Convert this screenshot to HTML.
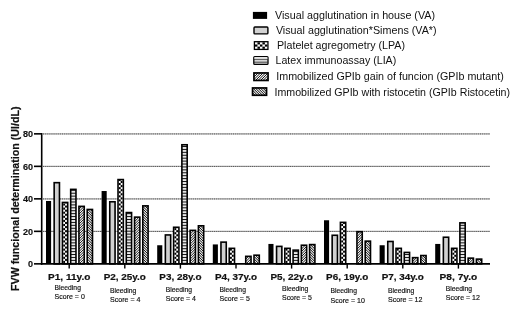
<!DOCTYPE html>
<html><head><meta charset="utf-8"><title>chart</title>
<style>
html,body{margin:0;padding:0;background:#fff;}
body{width:520px;height:323px;overflow:hidden;font-family:"Liberation Sans",sans-serif;}
svg{display:block;filter:blur(0.35px)}
text{font-family:"Liberation Sans",sans-serif;fill:#111}
</style></head><body>
<svg width="520" height="323" viewBox="0 0 520 323">
<defs>
<pattern id="chk" width="4.4" height="4.4" patternUnits="userSpaceOnUse"><rect width="4.4" height="4.4" fill="#fff"/><rect x="0" y="0" width="2.2" height="2.2" fill="#000"/><rect x="2.2" y="2.2" width="2.2" height="2.2" fill="#000"/></pattern>
<pattern id="hz" width="2.92" height="2.92" patternUnits="userSpaceOnUse"><rect width="3" height="3" fill="#ececec"/><rect x="0" y="0" width="3" height="1.0" fill="#111"/></pattern>
<pattern id="dg1" width="1.35" height="1.35" patternUnits="userSpaceOnUse" patternTransform="rotate(-45)"><rect width="1.35" height="1.35" fill="#f0f0f0"/><rect x="0" y="0" width="1.35" height="0.65" fill="#000"/></pattern>
<pattern id="dg2" width="1.45" height="1.45" patternUnits="userSpaceOnUse" patternTransform="rotate(45)"><rect width="1.45" height="1.45" fill="#eaeaea"/><rect x="0" y="0" width="1.45" height="0.7" fill="#000"/></pattern>
</defs>

<line x1="43" y1="231.35" x2="490" y2="231.35" stroke="#b4b4b4" stroke-width="1.1"/>
<line x1="43" y1="231.45" x2="490" y2="231.45" stroke="#555" stroke-width="1" stroke-dasharray="1 0.9"/>
<line x1="43" y1="198.85" x2="490" y2="198.85" stroke="#b4b4b4" stroke-width="1.1"/>
<line x1="43" y1="198.95" x2="490" y2="198.95" stroke="#555" stroke-width="1" stroke-dasharray="1 0.9"/>
<line x1="43" y1="166.35" x2="490" y2="166.35" stroke="#b4b4b4" stroke-width="1.1"/>
<line x1="43" y1="166.45" x2="490" y2="166.45" stroke="#555" stroke-width="1" stroke-dasharray="1 0.9"/>
<line x1="43" y1="133.85" x2="490" y2="133.85" stroke="#b4b4b4" stroke-width="1.1"/>
<line x1="43" y1="133.95" x2="490" y2="133.95" stroke="#555" stroke-width="1" stroke-dasharray="1 0.9"/>
<rect x="46.00" y="200.98" width="5.1" height="62.87" fill="#000"/>
<rect x="54.16" y="182.67" width="5.3" height="81.18" fill="#d0d0d0" stroke="#000" stroke-width="1.6"/>
<rect x="62.42" y="202.44" width="5.3" height="61.41" fill="#fff"/>
<rect x="63.22" y="260.90" width="1.85" height="2.05" fill="#000"/>
<rect x="65.07" y="258.85" width="1.85" height="2.05" fill="#000"/>
<rect x="63.22" y="256.80" width="1.85" height="2.05" fill="#000"/>
<rect x="65.07" y="254.75" width="1.85" height="2.05" fill="#000"/>
<rect x="63.22" y="252.70" width="1.85" height="2.05" fill="#000"/>
<rect x="65.07" y="250.65" width="1.85" height="2.05" fill="#000"/>
<rect x="63.22" y="248.60" width="1.85" height="2.05" fill="#000"/>
<rect x="65.07" y="246.55" width="1.85" height="2.05" fill="#000"/>
<rect x="63.22" y="244.50" width="1.85" height="2.05" fill="#000"/>
<rect x="65.07" y="242.45" width="1.85" height="2.05" fill="#000"/>
<rect x="63.22" y="240.40" width="1.85" height="2.05" fill="#000"/>
<rect x="65.07" y="238.35" width="1.85" height="2.05" fill="#000"/>
<rect x="63.22" y="236.30" width="1.85" height="2.05" fill="#000"/>
<rect x="65.07" y="234.25" width="1.85" height="2.05" fill="#000"/>
<rect x="63.22" y="232.20" width="1.85" height="2.05" fill="#000"/>
<rect x="65.07" y="230.15" width="1.85" height="2.05" fill="#000"/>
<rect x="63.22" y="228.10" width="1.85" height="2.05" fill="#000"/>
<rect x="65.07" y="226.05" width="1.85" height="2.05" fill="#000"/>
<rect x="63.22" y="224.00" width="1.85" height="2.05" fill="#000"/>
<rect x="65.07" y="221.95" width="1.85" height="2.05" fill="#000"/>
<rect x="63.22" y="219.90" width="1.85" height="2.05" fill="#000"/>
<rect x="65.07" y="217.85" width="1.85" height="2.05" fill="#000"/>
<rect x="63.22" y="215.80" width="1.85" height="2.05" fill="#000"/>
<rect x="65.07" y="213.75" width="1.85" height="2.05" fill="#000"/>
<rect x="63.22" y="211.70" width="1.85" height="2.05" fill="#000"/>
<rect x="65.07" y="209.65" width="1.85" height="2.05" fill="#000"/>
<rect x="63.22" y="207.60" width="1.85" height="2.05" fill="#000"/>
<rect x="65.07" y="205.55" width="1.85" height="2.05" fill="#000"/>
<rect x="63.22" y="203.50" width="1.85" height="2.05" fill="#000"/>
<rect x="65.07" y="202.44" width="1.85" height="1.06" fill="#000"/>
<rect x="62.42" y="202.44" width="5.3" height="61.41" fill="none" stroke="#000" stroke-width="1.6"/>
<rect x="70.68" y="189.37" width="5.3" height="74.48" fill="url(#hz)" stroke="#000" stroke-width="1.6"/>
<clipPath id="c0_4"><rect x="78.94" y="206.36" width="5.3" height="57.49"/></clipPath>
<rect x="78.94" y="206.36" width="5.3" height="57.49" fill="#f4f4f4"/>
<path clip-path="url(#c0_4)" d="M78.94 269.15L84.24 263.85M78.94 266.65L84.24 261.35M78.94 264.15L84.24 258.85M78.94 261.65L84.24 256.35M78.94 259.15L84.24 253.85M78.94 256.65L84.24 251.35M78.94 254.15L84.24 248.85M78.94 251.65L84.24 246.35M78.94 249.15L84.24 243.85M78.94 246.65L84.24 241.35M78.94 244.15L84.24 238.85M78.94 241.65L84.24 236.35M78.94 239.15L84.24 233.85M78.94 236.65L84.24 231.35M78.94 234.15L84.24 228.85M78.94 231.65L84.24 226.35M78.94 229.15L84.24 223.85M78.94 226.65L84.24 221.35M78.94 224.15L84.24 218.85M78.94 221.65L84.24 216.35M78.94 219.15L84.24 213.85M78.94 216.65L84.24 211.35M78.94 214.15L84.24 208.85M78.94 211.65L84.24 206.35M78.94 209.15L84.24 203.85M78.94 206.65L84.24 201.35M78.94 204.15L84.24 198.85M78.94 201.65L84.24 196.35" stroke="#000" stroke-width="0.9" fill="none"/>
<rect x="78.94" y="206.36" width="5.3" height="57.49" fill="none" stroke="#000" stroke-width="1.6"/>
<clipPath id="c0_5"><rect x="87.20" y="209.46" width="5.3" height="54.39"/></clipPath>
<rect x="87.20" y="209.46" width="5.3" height="54.39" fill="#ededed"/>
<path clip-path="url(#c0_5)" d="M87.20 263.85L92.50 269.15M87.20 261.35L92.50 266.65M87.20 258.85L92.50 264.15M87.20 256.35L92.50 261.65M87.20 253.85L92.50 259.15M87.20 251.35L92.50 256.65M87.20 248.85L92.50 254.15M87.20 246.35L92.50 251.65M87.20 243.85L92.50 249.15M87.20 241.35L92.50 246.65M87.20 238.85L92.50 244.15M87.20 236.35L92.50 241.65M87.20 233.85L92.50 239.15M87.20 231.35L92.50 236.65M87.20 228.85L92.50 234.15M87.20 226.35L92.50 231.65M87.20 223.85L92.50 229.15M87.20 221.35L92.50 226.65M87.20 218.85L92.50 224.15M87.20 216.35L92.50 221.65M87.20 213.85L92.50 219.15M87.20 211.35L92.50 216.65M87.20 208.85L92.50 214.15M87.20 206.35L92.50 211.65M87.20 203.85L92.50 209.15M87.20 201.35L92.50 206.65" stroke="#000" stroke-width="0.95" fill="none"/>
<rect x="87.20" y="209.46" width="5.3" height="54.39" fill="none" stroke="#000" stroke-width="1.6"/>
<rect x="101.60" y="191.02" width="5.1" height="72.83" fill="#000"/>
<rect x="109.76" y="201.78" width="5.3" height="62.07" fill="#d0d0d0" stroke="#000" stroke-width="1.6"/>
<rect x="118.02" y="179.57" width="5.3" height="84.28" fill="#fff"/>
<rect x="118.82" y="260.90" width="1.85" height="2.05" fill="#000"/>
<rect x="120.67" y="258.85" width="1.85" height="2.05" fill="#000"/>
<rect x="118.82" y="256.80" width="1.85" height="2.05" fill="#000"/>
<rect x="120.67" y="254.75" width="1.85" height="2.05" fill="#000"/>
<rect x="118.82" y="252.70" width="1.85" height="2.05" fill="#000"/>
<rect x="120.67" y="250.65" width="1.85" height="2.05" fill="#000"/>
<rect x="118.82" y="248.60" width="1.85" height="2.05" fill="#000"/>
<rect x="120.67" y="246.55" width="1.85" height="2.05" fill="#000"/>
<rect x="118.82" y="244.50" width="1.85" height="2.05" fill="#000"/>
<rect x="120.67" y="242.45" width="1.85" height="2.05" fill="#000"/>
<rect x="118.82" y="240.40" width="1.85" height="2.05" fill="#000"/>
<rect x="120.67" y="238.35" width="1.85" height="2.05" fill="#000"/>
<rect x="118.82" y="236.30" width="1.85" height="2.05" fill="#000"/>
<rect x="120.67" y="234.25" width="1.85" height="2.05" fill="#000"/>
<rect x="118.82" y="232.20" width="1.85" height="2.05" fill="#000"/>
<rect x="120.67" y="230.15" width="1.85" height="2.05" fill="#000"/>
<rect x="118.82" y="228.10" width="1.85" height="2.05" fill="#000"/>
<rect x="120.67" y="226.05" width="1.85" height="2.05" fill="#000"/>
<rect x="118.82" y="224.00" width="1.85" height="2.05" fill="#000"/>
<rect x="120.67" y="221.95" width="1.85" height="2.05" fill="#000"/>
<rect x="118.82" y="219.90" width="1.85" height="2.05" fill="#000"/>
<rect x="120.67" y="217.85" width="1.85" height="2.05" fill="#000"/>
<rect x="118.82" y="215.80" width="1.85" height="2.05" fill="#000"/>
<rect x="120.67" y="213.75" width="1.85" height="2.05" fill="#000"/>
<rect x="118.82" y="211.70" width="1.85" height="2.05" fill="#000"/>
<rect x="120.67" y="209.65" width="1.85" height="2.05" fill="#000"/>
<rect x="118.82" y="207.60" width="1.85" height="2.05" fill="#000"/>
<rect x="120.67" y="205.55" width="1.85" height="2.05" fill="#000"/>
<rect x="118.82" y="203.50" width="1.85" height="2.05" fill="#000"/>
<rect x="120.67" y="201.45" width="1.85" height="2.05" fill="#000"/>
<rect x="118.82" y="199.40" width="1.85" height="2.05" fill="#000"/>
<rect x="120.67" y="197.35" width="1.85" height="2.05" fill="#000"/>
<rect x="118.82" y="195.30" width="1.85" height="2.05" fill="#000"/>
<rect x="120.67" y="193.25" width="1.85" height="2.05" fill="#000"/>
<rect x="118.82" y="191.20" width="1.85" height="2.05" fill="#000"/>
<rect x="120.67" y="189.15" width="1.85" height="2.05" fill="#000"/>
<rect x="118.82" y="187.10" width="1.85" height="2.05" fill="#000"/>
<rect x="120.67" y="185.05" width="1.85" height="2.05" fill="#000"/>
<rect x="118.82" y="183.00" width="1.85" height="2.05" fill="#000"/>
<rect x="120.67" y="180.95" width="1.85" height="2.05" fill="#000"/>
<rect x="118.82" y="179.57" width="1.85" height="1.38" fill="#000"/>
<rect x="118.02" y="179.57" width="5.3" height="84.28" fill="none" stroke="#000" stroke-width="1.6"/>
<rect x="126.28" y="212.56" width="5.3" height="51.29" fill="url(#hz)" stroke="#000" stroke-width="1.6"/>
<clipPath id="c1_4"><rect x="134.54" y="217.14" width="5.3" height="46.71"/></clipPath>
<rect x="134.54" y="217.14" width="5.3" height="46.71" fill="#f4f4f4"/>
<path clip-path="url(#c1_4)" d="M134.54 269.15L139.84 263.85M134.54 266.65L139.84 261.35M134.54 264.15L139.84 258.85M134.54 261.65L139.84 256.35M134.54 259.15L139.84 253.85M134.54 256.65L139.84 251.35M134.54 254.15L139.84 248.85M134.54 251.65L139.84 246.35M134.54 249.15L139.84 243.85M134.54 246.65L139.84 241.35M134.54 244.15L139.84 238.85M134.54 241.65L139.84 236.35M134.54 239.15L139.84 233.85M134.54 236.65L139.84 231.35M134.54 234.15L139.84 228.85M134.54 231.65L139.84 226.35M134.54 229.15L139.84 223.85M134.54 226.65L139.84 221.35M134.54 224.15L139.84 218.85M134.54 221.65L139.84 216.35M134.54 219.15L139.84 213.85M134.54 216.65L139.84 211.35M134.54 214.15L139.84 208.85" stroke="#000" stroke-width="0.9" fill="none"/>
<rect x="134.54" y="217.14" width="5.3" height="46.71" fill="none" stroke="#000" stroke-width="1.6"/>
<clipPath id="c1_5"><rect x="142.80" y="205.87" width="5.3" height="57.98"/></clipPath>
<rect x="142.80" y="205.87" width="5.3" height="57.98" fill="#ededed"/>
<path clip-path="url(#c1_5)" d="M142.80 263.85L148.10 269.15M142.80 261.35L148.10 266.65M142.80 258.85L148.10 264.15M142.80 256.35L148.10 261.65M142.80 253.85L148.10 259.15M142.80 251.35L148.10 256.65M142.80 248.85L148.10 254.15M142.80 246.35L148.10 251.65M142.80 243.85L148.10 249.15M142.80 241.35L148.10 246.65M142.80 238.85L148.10 244.15M142.80 236.35L148.10 241.65M142.80 233.85L148.10 239.15M142.80 231.35L148.10 236.65M142.80 228.85L148.10 234.15M142.80 226.35L148.10 231.65M142.80 223.85L148.10 229.15M142.80 221.35L148.10 226.65M142.80 218.85L148.10 224.15M142.80 216.35L148.10 221.65M142.80 213.85L148.10 219.15M142.80 211.35L148.10 216.65M142.80 208.85L148.10 214.15M142.80 206.35L148.10 211.65M142.80 203.85L148.10 209.15M142.80 201.35L148.10 206.65M142.80 198.85L148.10 204.15M142.80 196.35L148.10 201.65" stroke="#000" stroke-width="0.95" fill="none"/>
<rect x="142.80" y="205.87" width="5.3" height="57.98" fill="none" stroke="#000" stroke-width="1.6"/>
<rect x="157.20" y="245.25" width="5.1" height="18.60" fill="#000"/>
<rect x="165.36" y="234.94" width="5.3" height="28.91" fill="#d0d0d0" stroke="#000" stroke-width="1.6"/>
<rect x="173.62" y="227.27" width="5.3" height="36.58" fill="#fff"/>
<rect x="174.42" y="260.90" width="1.85" height="2.05" fill="#000"/>
<rect x="176.27" y="258.85" width="1.85" height="2.05" fill="#000"/>
<rect x="174.42" y="256.80" width="1.85" height="2.05" fill="#000"/>
<rect x="176.27" y="254.75" width="1.85" height="2.05" fill="#000"/>
<rect x="174.42" y="252.70" width="1.85" height="2.05" fill="#000"/>
<rect x="176.27" y="250.65" width="1.85" height="2.05" fill="#000"/>
<rect x="174.42" y="248.60" width="1.85" height="2.05" fill="#000"/>
<rect x="176.27" y="246.55" width="1.85" height="2.05" fill="#000"/>
<rect x="174.42" y="244.50" width="1.85" height="2.05" fill="#000"/>
<rect x="176.27" y="242.45" width="1.85" height="2.05" fill="#000"/>
<rect x="174.42" y="240.40" width="1.85" height="2.05" fill="#000"/>
<rect x="176.27" y="238.35" width="1.85" height="2.05" fill="#000"/>
<rect x="174.42" y="236.30" width="1.85" height="2.05" fill="#000"/>
<rect x="176.27" y="234.25" width="1.85" height="2.05" fill="#000"/>
<rect x="174.42" y="232.20" width="1.85" height="2.05" fill="#000"/>
<rect x="176.27" y="230.15" width="1.85" height="2.05" fill="#000"/>
<rect x="174.42" y="228.10" width="1.85" height="2.05" fill="#000"/>
<rect x="176.27" y="227.27" width="1.85" height="0.83" fill="#000"/>
<rect x="173.62" y="227.27" width="5.3" height="36.58" fill="none" stroke="#000" stroke-width="1.6"/>
<rect x="181.88" y="144.77" width="5.3" height="119.08" fill="url(#hz)" stroke="#000" stroke-width="1.6"/>
<clipPath id="c2_4"><rect x="190.14" y="230.37" width="5.3" height="33.48"/></clipPath>
<rect x="190.14" y="230.37" width="5.3" height="33.48" fill="#f4f4f4"/>
<path clip-path="url(#c2_4)" d="M190.14 269.15L195.44 263.85M190.14 266.65L195.44 261.35M190.14 264.15L195.44 258.85M190.14 261.65L195.44 256.35M190.14 259.15L195.44 253.85M190.14 256.65L195.44 251.35M190.14 254.15L195.44 248.85M190.14 251.65L195.44 246.35M190.14 249.15L195.44 243.85M190.14 246.65L195.44 241.35M190.14 244.15L195.44 238.85M190.14 241.65L195.44 236.35M190.14 239.15L195.44 233.85M190.14 236.65L195.44 231.35M190.14 234.15L195.44 228.85M190.14 231.65L195.44 226.35M190.14 229.15L195.44 223.85M190.14 226.65L195.44 221.35" stroke="#000" stroke-width="0.9" fill="none"/>
<rect x="190.14" y="230.37" width="5.3" height="33.48" fill="none" stroke="#000" stroke-width="1.6"/>
<clipPath id="c2_5"><rect x="198.40" y="225.80" width="5.3" height="38.05"/></clipPath>
<rect x="198.40" y="225.80" width="5.3" height="38.05" fill="#ededed"/>
<path clip-path="url(#c2_5)" d="M198.40 263.85L203.70 269.15M198.40 261.35L203.70 266.65M198.40 258.85L203.70 264.15M198.40 256.35L203.70 261.65M198.40 253.85L203.70 259.15M198.40 251.35L203.70 256.65M198.40 248.85L203.70 254.15M198.40 246.35L203.70 251.65M198.40 243.85L203.70 249.15M198.40 241.35L203.70 246.65M198.40 238.85L203.70 244.15M198.40 236.35L203.70 241.65M198.40 233.85L203.70 239.15M198.40 231.35L203.70 236.65M198.40 228.85L203.70 234.15M198.40 226.35L203.70 231.65M198.40 223.85L203.70 229.15M198.40 221.35L203.70 226.65M198.40 218.85L203.70 224.15M198.40 216.35L203.70 221.65" stroke="#000" stroke-width="0.95" fill="none"/>
<rect x="198.40" y="225.80" width="5.3" height="38.05" fill="none" stroke="#000" stroke-width="1.6"/>
<rect x="212.80" y="244.43" width="5.1" height="19.42" fill="#000"/>
<rect x="220.96" y="242.13" width="5.3" height="21.72" fill="#d0d0d0" stroke="#000" stroke-width="1.6"/>
<rect x="229.22" y="248.34" width="5.3" height="15.51" fill="#fff"/>
<rect x="230.02" y="260.90" width="1.85" height="2.05" fill="#000"/>
<rect x="231.87" y="258.85" width="1.85" height="2.05" fill="#000"/>
<rect x="230.02" y="256.80" width="1.85" height="2.05" fill="#000"/>
<rect x="231.87" y="254.75" width="1.85" height="2.05" fill="#000"/>
<rect x="230.02" y="252.70" width="1.85" height="2.05" fill="#000"/>
<rect x="231.87" y="250.65" width="1.85" height="2.05" fill="#000"/>
<rect x="230.02" y="248.60" width="1.85" height="2.05" fill="#000"/>
<rect x="231.87" y="248.34" width="1.85" height="0.26" fill="#000"/>
<rect x="229.22" y="248.34" width="5.3" height="15.51" fill="none" stroke="#000" stroke-width="1.6"/>
<clipPath id="c3_4"><rect x="245.74" y="256.34" width="5.3" height="7.51"/></clipPath>
<rect x="245.74" y="256.34" width="5.3" height="7.51" fill="#f4f4f4"/>
<path clip-path="url(#c3_4)" d="M245.74 269.15L251.04 263.85M245.74 266.65L251.04 261.35M245.74 264.15L251.04 258.85M245.74 261.65L251.04 256.35M245.74 259.15L251.04 253.85M245.74 256.65L251.04 251.35M245.74 254.15L251.04 248.85M245.74 251.65L251.04 246.35" stroke="#000" stroke-width="0.9" fill="none"/>
<rect x="245.74" y="256.34" width="5.3" height="7.51" fill="none" stroke="#000" stroke-width="1.6"/>
<clipPath id="c3_5"><rect x="254.00" y="255.20" width="5.3" height="8.65"/></clipPath>
<rect x="254.00" y="255.20" width="5.3" height="8.65" fill="#ededed"/>
<path clip-path="url(#c3_5)" d="M254.00 263.85L259.30 269.15M254.00 261.35L259.30 266.65M254.00 258.85L259.30 264.15M254.00 256.35L259.30 261.65M254.00 253.85L259.30 259.15M254.00 251.35L259.30 256.65M254.00 248.85L259.30 254.15M254.00 246.35L259.30 251.65" stroke="#000" stroke-width="0.95" fill="none"/>
<rect x="254.00" y="255.20" width="5.3" height="8.65" fill="none" stroke="#000" stroke-width="1.6"/>
<rect x="268.40" y="243.94" width="5.1" height="19.91" fill="#000"/>
<rect x="276.56" y="246.38" width="5.3" height="17.47" fill="#d0d0d0" stroke="#000" stroke-width="1.6"/>
<rect x="284.82" y="248.34" width="5.3" height="15.51" fill="#fff"/>
<rect x="285.62" y="260.90" width="1.85" height="2.05" fill="#000"/>
<rect x="287.47" y="258.85" width="1.85" height="2.05" fill="#000"/>
<rect x="285.62" y="256.80" width="1.85" height="2.05" fill="#000"/>
<rect x="287.47" y="254.75" width="1.85" height="2.05" fill="#000"/>
<rect x="285.62" y="252.70" width="1.85" height="2.05" fill="#000"/>
<rect x="287.47" y="250.65" width="1.85" height="2.05" fill="#000"/>
<rect x="285.62" y="248.60" width="1.85" height="2.05" fill="#000"/>
<rect x="287.47" y="248.34" width="1.85" height="0.26" fill="#000"/>
<rect x="284.82" y="248.34" width="5.3" height="15.51" fill="none" stroke="#000" stroke-width="1.6"/>
<rect x="293.08" y="250.14" width="5.3" height="13.71" fill="url(#hz)" stroke="#000" stroke-width="1.6"/>
<clipPath id="c4_4"><rect x="301.34" y="245.23" width="5.3" height="18.62"/></clipPath>
<rect x="301.34" y="245.23" width="5.3" height="18.62" fill="#f4f4f4"/>
<path clip-path="url(#c4_4)" d="M301.34 269.15L306.64 263.85M301.34 266.65L306.64 261.35M301.34 264.15L306.64 258.85M301.34 261.65L306.64 256.35M301.34 259.15L306.64 253.85M301.34 256.65L306.64 251.35M301.34 254.15L306.64 248.85M301.34 251.65L306.64 246.35M301.34 249.15L306.64 243.85M301.34 246.65L306.64 241.35M301.34 244.15L306.64 238.85M301.34 241.65L306.64 236.35" stroke="#000" stroke-width="0.9" fill="none"/>
<rect x="301.34" y="245.23" width="5.3" height="18.62" fill="none" stroke="#000" stroke-width="1.6"/>
<clipPath id="c4_5"><rect x="309.60" y="244.58" width="5.3" height="19.27"/></clipPath>
<rect x="309.60" y="244.58" width="5.3" height="19.27" fill="#ededed"/>
<path clip-path="url(#c4_5)" d="M309.60 263.85L314.90 269.15M309.60 261.35L314.90 266.65M309.60 258.85L314.90 264.15M309.60 256.35L314.90 261.65M309.60 253.85L314.90 259.15M309.60 251.35L314.90 256.65M309.60 248.85L314.90 254.15M309.60 246.35L314.90 251.65M309.60 243.85L314.90 249.15M309.60 241.35L314.90 246.65M309.60 238.85L314.90 244.15M309.60 236.35L314.90 241.65" stroke="#000" stroke-width="0.95" fill="none"/>
<rect x="309.60" y="244.58" width="5.3" height="19.27" fill="none" stroke="#000" stroke-width="1.6"/>
<rect x="324.00" y="220.26" width="5.1" height="43.59" fill="#000"/>
<rect x="332.16" y="235.27" width="5.3" height="28.58" fill="#d0d0d0" stroke="#000" stroke-width="1.6"/>
<rect x="340.42" y="222.37" width="5.3" height="41.48" fill="#fff"/>
<rect x="341.22" y="260.90" width="1.85" height="2.05" fill="#000"/>
<rect x="343.07" y="258.85" width="1.85" height="2.05" fill="#000"/>
<rect x="341.22" y="256.80" width="1.85" height="2.05" fill="#000"/>
<rect x="343.07" y="254.75" width="1.85" height="2.05" fill="#000"/>
<rect x="341.22" y="252.70" width="1.85" height="2.05" fill="#000"/>
<rect x="343.07" y="250.65" width="1.85" height="2.05" fill="#000"/>
<rect x="341.22" y="248.60" width="1.85" height="2.05" fill="#000"/>
<rect x="343.07" y="246.55" width="1.85" height="2.05" fill="#000"/>
<rect x="341.22" y="244.50" width="1.85" height="2.05" fill="#000"/>
<rect x="343.07" y="242.45" width="1.85" height="2.05" fill="#000"/>
<rect x="341.22" y="240.40" width="1.85" height="2.05" fill="#000"/>
<rect x="343.07" y="238.35" width="1.85" height="2.05" fill="#000"/>
<rect x="341.22" y="236.30" width="1.85" height="2.05" fill="#000"/>
<rect x="343.07" y="234.25" width="1.85" height="2.05" fill="#000"/>
<rect x="341.22" y="232.20" width="1.85" height="2.05" fill="#000"/>
<rect x="343.07" y="230.15" width="1.85" height="2.05" fill="#000"/>
<rect x="341.22" y="228.10" width="1.85" height="2.05" fill="#000"/>
<rect x="343.07" y="226.05" width="1.85" height="2.05" fill="#000"/>
<rect x="341.22" y="224.00" width="1.85" height="2.05" fill="#000"/>
<rect x="343.07" y="222.37" width="1.85" height="1.63" fill="#000"/>
<rect x="340.42" y="222.37" width="5.3" height="41.48" fill="none" stroke="#000" stroke-width="1.6"/>
<clipPath id="c5_4"><rect x="356.94" y="231.68" width="5.3" height="32.17"/></clipPath>
<rect x="356.94" y="231.68" width="5.3" height="32.17" fill="#f4f4f4"/>
<path clip-path="url(#c5_4)" d="M356.94 269.15L362.24 263.85M356.94 266.65L362.24 261.35M356.94 264.15L362.24 258.85M356.94 261.65L362.24 256.35M356.94 259.15L362.24 253.85M356.94 256.65L362.24 251.35M356.94 254.15L362.24 248.85M356.94 251.65L362.24 246.35M356.94 249.15L362.24 243.85M356.94 246.65L362.24 241.35M356.94 244.15L362.24 238.85M356.94 241.65L362.24 236.35M356.94 239.15L362.24 233.85M356.94 236.65L362.24 231.35M356.94 234.15L362.24 228.85M356.94 231.65L362.24 226.35M356.94 229.15L362.24 223.85M356.94 226.65L362.24 221.35" stroke="#000" stroke-width="0.9" fill="none"/>
<rect x="356.94" y="231.68" width="5.3" height="32.17" fill="none" stroke="#000" stroke-width="1.6"/>
<clipPath id="c5_5"><rect x="365.20" y="241.15" width="5.3" height="22.70"/></clipPath>
<rect x="365.20" y="241.15" width="5.3" height="22.70" fill="#ededed"/>
<path clip-path="url(#c5_5)" d="M365.20 263.85L370.50 269.15M365.20 261.35L370.50 266.65M365.20 258.85L370.50 264.15M365.20 256.35L370.50 261.65M365.20 253.85L370.50 259.15M365.20 251.35L370.50 256.65M365.20 248.85L370.50 254.15M365.20 246.35L370.50 251.65M365.20 243.85L370.50 249.15M365.20 241.35L370.50 246.65M365.20 238.85L370.50 244.15M365.20 236.35L370.50 241.65M365.20 233.85L370.50 239.15M365.20 231.35L370.50 236.65" stroke="#000" stroke-width="0.95" fill="none"/>
<rect x="365.20" y="241.15" width="5.3" height="22.70" fill="none" stroke="#000" stroke-width="1.6"/>
<rect x="379.60" y="245.25" width="5.1" height="18.60" fill="#000"/>
<rect x="387.76" y="241.48" width="5.3" height="22.37" fill="#d0d0d0" stroke="#000" stroke-width="1.6"/>
<rect x="396.02" y="248.34" width="5.3" height="15.51" fill="#fff"/>
<rect x="396.82" y="260.90" width="1.85" height="2.05" fill="#000"/>
<rect x="398.67" y="258.85" width="1.85" height="2.05" fill="#000"/>
<rect x="396.82" y="256.80" width="1.85" height="2.05" fill="#000"/>
<rect x="398.67" y="254.75" width="1.85" height="2.05" fill="#000"/>
<rect x="396.82" y="252.70" width="1.85" height="2.05" fill="#000"/>
<rect x="398.67" y="250.65" width="1.85" height="2.05" fill="#000"/>
<rect x="396.82" y="248.60" width="1.85" height="2.05" fill="#000"/>
<rect x="398.67" y="248.34" width="1.85" height="0.26" fill="#000"/>
<rect x="396.02" y="248.34" width="5.3" height="15.51" fill="none" stroke="#000" stroke-width="1.6"/>
<rect x="404.28" y="252.42" width="5.3" height="11.43" fill="url(#hz)" stroke="#000" stroke-width="1.6"/>
<clipPath id="c6_4"><rect x="412.54" y="257.65" width="5.3" height="6.20"/></clipPath>
<rect x="412.54" y="257.65" width="5.3" height="6.20" fill="#f4f4f4"/>
<path clip-path="url(#c6_4)" d="M412.54 269.15L417.84 263.85M412.54 266.65L417.84 261.35M412.54 264.15L417.84 258.85M412.54 261.65L417.84 256.35M412.54 259.15L417.84 253.85M412.54 256.65L417.84 251.35M412.54 254.15L417.84 248.85" stroke="#000" stroke-width="0.9" fill="none"/>
<rect x="412.54" y="257.65" width="5.3" height="6.20" fill="none" stroke="#000" stroke-width="1.6"/>
<clipPath id="c6_5"><rect x="420.80" y="255.53" width="5.3" height="8.32"/></clipPath>
<rect x="420.80" y="255.53" width="5.3" height="8.32" fill="#ededed"/>
<path clip-path="url(#c6_5)" d="M420.80 263.85L426.10 269.15M420.80 261.35L426.10 266.65M420.80 258.85L426.10 264.15M420.80 256.35L426.10 261.65M420.80 253.85L426.10 259.15M420.80 251.35L426.10 256.65M420.80 248.85L426.10 254.15M420.80 246.35L426.10 251.65" stroke="#000" stroke-width="0.95" fill="none"/>
<rect x="420.80" y="255.53" width="5.3" height="8.32" fill="none" stroke="#000" stroke-width="1.6"/>
<rect x="435.20" y="243.94" width="5.1" height="19.91" fill="#000"/>
<rect x="443.36" y="237.23" width="5.3" height="26.62" fill="#d0d0d0" stroke="#000" stroke-width="1.6"/>
<rect x="451.62" y="248.34" width="5.3" height="15.51" fill="#fff"/>
<rect x="452.42" y="260.90" width="1.85" height="2.05" fill="#000"/>
<rect x="454.27" y="258.85" width="1.85" height="2.05" fill="#000"/>
<rect x="452.42" y="256.80" width="1.85" height="2.05" fill="#000"/>
<rect x="454.27" y="254.75" width="1.85" height="2.05" fill="#000"/>
<rect x="452.42" y="252.70" width="1.85" height="2.05" fill="#000"/>
<rect x="454.27" y="250.65" width="1.85" height="2.05" fill="#000"/>
<rect x="452.42" y="248.60" width="1.85" height="2.05" fill="#000"/>
<rect x="454.27" y="248.34" width="1.85" height="0.26" fill="#000"/>
<rect x="451.62" y="248.34" width="5.3" height="15.51" fill="none" stroke="#000" stroke-width="1.6"/>
<rect x="459.88" y="222.86" width="5.3" height="40.99" fill="url(#hz)" stroke="#000" stroke-width="1.6"/>
<clipPath id="c7_4"><rect x="468.14" y="258.14" width="5.3" height="5.71"/></clipPath>
<rect x="468.14" y="258.14" width="5.3" height="5.71" fill="#f4f4f4"/>
<path clip-path="url(#c7_4)" d="M468.14 269.15L473.44 263.85M468.14 266.65L473.44 261.35M468.14 264.15L473.44 258.85M468.14 261.65L473.44 256.35M468.14 259.15L473.44 253.85M468.14 256.65L473.44 251.35M468.14 254.15L473.44 248.85" stroke="#000" stroke-width="0.9" fill="none"/>
<rect x="468.14" y="258.14" width="5.3" height="5.71" fill="none" stroke="#000" stroke-width="1.6"/>
<clipPath id="c7_5"><rect x="476.40" y="259.12" width="5.3" height="4.73"/></clipPath>
<rect x="476.40" y="259.12" width="5.3" height="4.73" fill="#ededed"/>
<path clip-path="url(#c7_5)" d="M476.40 263.85L481.70 269.15M476.40 261.35L481.70 266.65M476.40 258.85L481.70 264.15M476.40 256.35L481.70 261.65M476.40 253.85L481.70 259.15M476.40 251.35L481.70 256.65M476.40 248.85L481.70 254.15" stroke="#000" stroke-width="0.95" fill="none"/>
<rect x="476.40" y="259.12" width="5.3" height="4.73" fill="none" stroke="#000" stroke-width="1.6"/>
<line x1="41.7" y1="133.0" x2="41.7" y2="264.7" stroke="#000" stroke-width="1.6"/>
<line x1="40.9" y1="263.85" x2="490" y2="263.85" stroke="#000" stroke-width="1.8"/>
<line x1="34" y1="263.85" x2="42" y2="263.85" stroke="#000" stroke-width="1.6"/>
<text x="33.1" y="267.35" font-size="9.6" font-weight="bold" stroke="#111" stroke-width="0.15" text-anchor="end" textLength="5.05" lengthAdjust="spacingAndGlyphs">0</text>
<line x1="34" y1="231.35" x2="42" y2="231.35" stroke="#000" stroke-width="1.6"/>
<text x="33.1" y="234.85" font-size="9.6" font-weight="bold" stroke="#111" stroke-width="0.15" text-anchor="end" textLength="10.1" lengthAdjust="spacingAndGlyphs">20</text>
<line x1="34" y1="198.85" x2="42" y2="198.85" stroke="#000" stroke-width="1.6"/>
<text x="33.1" y="202.35" font-size="9.6" font-weight="bold" stroke="#111" stroke-width="0.15" text-anchor="end" textLength="10.1" lengthAdjust="spacingAndGlyphs">40</text>
<line x1="34" y1="166.35" x2="42" y2="166.35" stroke="#000" stroke-width="1.6"/>
<text x="33.1" y="169.85" font-size="9.6" font-weight="bold" stroke="#111" stroke-width="0.15" text-anchor="end" textLength="10.1" lengthAdjust="spacingAndGlyphs">60</text>
<line x1="34" y1="133.85" x2="42" y2="133.85" stroke="#000" stroke-width="1.6"/>
<text x="33.1" y="137.35" font-size="9.6" font-weight="bold" stroke="#111" stroke-width="0.15" text-anchor="end" textLength="10.1" lengthAdjust="spacingAndGlyphs">80</text>
<line x1="69.20" y1="263.85" x2="69.20" y2="268.6" stroke="#000" stroke-width="1.4"/>
<text x="69.20" y="280.2" font-size="9.7" font-weight="bold" stroke="#111" stroke-width="0.2" text-anchor="middle" textLength="42.2" lengthAdjust="spacingAndGlyphs">P1, 11y.o</text>
<text x="54.6" y="289.6" font-size="7" fill="#000" stroke="#000" stroke-width="0.15" textLength="26.3" lengthAdjust="spacingAndGlyphs">Bleeding</text>
<text x="54.6" y="298.5" font-size="7" fill="#000" stroke="#000" stroke-width="0.15" textLength="30.2" lengthAdjust="spacingAndGlyphs">Score = 0</text>
<line x1="124.80" y1="263.85" x2="124.80" y2="268.6" stroke="#000" stroke-width="1.4"/>
<text x="124.80" y="280.2" font-size="9.7" font-weight="bold" stroke="#111" stroke-width="0.2" text-anchor="middle" textLength="42.2" lengthAdjust="spacingAndGlyphs">P2, 25y.o</text>
<text x="110" y="293.4" font-size="7" fill="#000" stroke="#000" stroke-width="0.15" textLength="26.3" lengthAdjust="spacingAndGlyphs">Bleeding</text>
<text x="110" y="302.2" font-size="7" fill="#000" stroke="#000" stroke-width="0.15" textLength="30.4" lengthAdjust="spacingAndGlyphs">Score = 4</text>
<line x1="180.40" y1="263.85" x2="180.40" y2="268.6" stroke="#000" stroke-width="1.4"/>
<text x="180.40" y="280.2" font-size="9.7" font-weight="bold" stroke="#111" stroke-width="0.2" text-anchor="middle" textLength="42.2" lengthAdjust="spacingAndGlyphs">P3, 28y.o</text>
<text x="165.8" y="292" font-size="7" fill="#000" stroke="#000" stroke-width="0.15" textLength="26.3" lengthAdjust="spacingAndGlyphs">Bleeding</text>
<text x="165.8" y="301" font-size="7" fill="#000" stroke="#000" stroke-width="0.15" textLength="30.2" lengthAdjust="spacingAndGlyphs">Score = 4</text>
<line x1="236.00" y1="263.85" x2="236.00" y2="268.6" stroke="#000" stroke-width="1.4"/>
<text x="236.00" y="280.2" font-size="9.7" font-weight="bold" stroke="#111" stroke-width="0.2" text-anchor="middle" textLength="42.2" lengthAdjust="spacingAndGlyphs">P4, 37y.o</text>
<text x="219.6" y="292" font-size="7" fill="#000" stroke="#000" stroke-width="0.15" textLength="26.3" lengthAdjust="spacingAndGlyphs">Bleeding</text>
<text x="219.6" y="301" font-size="7" fill="#000" stroke="#000" stroke-width="0.15" textLength="30.2" lengthAdjust="spacingAndGlyphs">Score = 5</text>
<line x1="291.60" y1="263.85" x2="291.60" y2="268.6" stroke="#000" stroke-width="1.4"/>
<text x="291.60" y="280.2" font-size="9.7" font-weight="bold" stroke="#111" stroke-width="0.2" text-anchor="middle" textLength="42.2" lengthAdjust="spacingAndGlyphs">P5, 22y.o</text>
<text x="282" y="291.35" font-size="7" fill="#000" stroke="#000" stroke-width="0.15" textLength="26.3" lengthAdjust="spacingAndGlyphs">Bleeding</text>
<text x="282" y="300.4" font-size="7" fill="#000" stroke="#000" stroke-width="0.15" textLength="30.0" lengthAdjust="spacingAndGlyphs">Score = 5</text>
<line x1="347.20" y1="263.85" x2="347.20" y2="268.6" stroke="#000" stroke-width="1.4"/>
<text x="347.20" y="280.2" font-size="9.7" font-weight="bold" stroke="#111" stroke-width="0.2" text-anchor="middle" textLength="42.2" lengthAdjust="spacingAndGlyphs">P6, 19y.o</text>
<text x="330.6" y="293.4" font-size="7" fill="#000" stroke="#000" stroke-width="0.15" textLength="26.3" lengthAdjust="spacingAndGlyphs">Bleeding</text>
<text x="330.6" y="302.5" font-size="7" fill="#000" stroke="#000" stroke-width="0.15" textLength="34.3" lengthAdjust="spacingAndGlyphs">Score = 10</text>
<line x1="402.80" y1="263.85" x2="402.80" y2="268.6" stroke="#000" stroke-width="1.4"/>
<text x="402.80" y="280.2" font-size="9.7" font-weight="bold" stroke="#111" stroke-width="0.2" text-anchor="middle" textLength="42.2" lengthAdjust="spacingAndGlyphs">P7, 34y.o</text>
<text x="388" y="292.6" font-size="7" fill="#000" stroke="#000" stroke-width="0.15" textLength="26.3" lengthAdjust="spacingAndGlyphs">Bleeding</text>
<text x="388" y="301.75" font-size="7" fill="#000" stroke="#000" stroke-width="0.15" textLength="34.5" lengthAdjust="spacingAndGlyphs">Score = 12</text>
<line x1="458.40" y1="263.85" x2="458.40" y2="268.6" stroke="#000" stroke-width="1.4"/>
<text x="458.40" y="280.2" font-size="9.7" font-weight="bold" stroke="#111" stroke-width="0.2" text-anchor="middle" textLength="37.6" lengthAdjust="spacingAndGlyphs">P8, 7y.o</text>
<text x="445.8" y="291.35" font-size="7" fill="#000" stroke="#000" stroke-width="0.15" textLength="26.3" lengthAdjust="spacingAndGlyphs">Bleeding</text>
<text x="445.8" y="300.4" font-size="7" fill="#000" stroke="#000" stroke-width="0.15" textLength="34.1" lengthAdjust="spacingAndGlyphs">Score = 12</text>
<text transform="translate(19.4,291) rotate(-90)" font-size="10.8" font-weight="bold" stroke="#111" stroke-width="0.2" textLength="184.6" lengthAdjust="spacingAndGlyphs">FVW funcional determination (UI/dL)</text>
<text x="275" y="18.85" font-size="10.7" textLength="160" lengthAdjust="spacingAndGlyphs">Visual agglutination in house (VA)</text>
<text x="275.9" y="33.8" font-size="10.7" textLength="160.7" lengthAdjust="spacingAndGlyphs">Visual agglutination*Simens (VA*)</text>
<text x="277" y="48.8" font-size="10.7" textLength="128" lengthAdjust="spacingAndGlyphs">Platelet agregometry (LPA)</text>
<text x="275.5" y="63.8" font-size="10.7" textLength="120.75" lengthAdjust="spacingAndGlyphs">Latex immunoassay (LIA)</text>
<text x="276.25" y="80" font-size="10.7" textLength="227.5" lengthAdjust="spacingAndGlyphs">Immobilized GPIb gain of funcion (GPIb mutant)</text>
<text x="274.5" y="95.75" font-size="10.7" textLength="235.5" lengthAdjust="spacingAndGlyphs">Immobilized GPIb with ristocetin (GPIb Ristocetin)</text>
<rect x="252.9" y="11.9" width="14.2" height="7" fill="#000"/>
<rect x="254" y="27" width="13.9" height="6.9" rx="0.9" fill="#d2d2d2" stroke="#000" stroke-width="1.4"/>
<rect x="255.0" y="42.3" width="12.35" height="6.51" fill="#fff"/>
<rect x="257.47" y="42.30" width="2.47" height="2.17" fill="#000"/>
<rect x="262.41" y="42.30" width="2.47" height="2.17" fill="#000"/>
<rect x="255.00" y="44.47" width="2.47" height="2.17" fill="#000"/>
<rect x="259.94" y="44.47" width="2.47" height="2.17" fill="#000"/>
<rect x="264.88" y="44.47" width="2.47" height="2.17" fill="#000"/>
<rect x="257.47" y="46.64" width="2.47" height="2.17" fill="#000"/>
<rect x="262.41" y="46.64" width="2.47" height="2.17" fill="#000"/>
<rect x="254.4" y="41.699999999999996" width="13.55" height="7.71" fill="none" stroke="#000" stroke-width="1.3"/>
<rect x="253.8" y="56.7" width="14.2" height="7.6" rx="0.9" fill="#d8d8d8" stroke="#000" stroke-width="1.3"/>
<rect x="254.4" y="57.3" width="13" height="1.6" fill="#fff"/>
<path d="M254 59.3H267.8M254 62.2H267.8" stroke="#222" stroke-width="0.8"/>
<clipPath id="lg4"><rect x="253.95" y="72.95" width="14.1" height="7.50"/></clipPath>
<rect x="253.95" y="72.95" width="14.1" height="7.50" fill="#f4f4f4"/>
<path clip-path="url(#lg4)" d="M253.95 94.55L268.05 80.45M253.95 92.05L268.05 77.95M253.95 89.55L268.05 75.45M253.95 87.05L268.05 72.95M253.95 84.55L268.05 70.45M253.95 82.05L268.05 67.95M253.95 79.55L268.05 65.45M253.95 77.05L268.05 62.95M253.95 74.55L268.05 60.45M253.95 72.05L268.05 57.95M253.95 69.55L268.05 55.45M253.95 67.05L268.05 52.95M253.95 64.55L268.05 50.45M253.95 62.05L268.05 47.95M253.95 59.55L268.05 45.45" stroke="#000" stroke-width="0.9" fill="none"/>
<rect x="253.95" y="72.95" width="14.1" height="7.50" fill="none" stroke="#000" stroke-width="1.7"/>
<clipPath id="lg5"><rect x="252.55" y="87.95" width="14.0" height="7.30"/></clipPath>
<rect x="252.55" y="87.95" width="14.0" height="7.30" fill="#ededed"/>
<path clip-path="url(#lg5)" d="M252.55 95.25L266.55 109.25M252.55 92.75L266.55 106.75M252.55 90.25L266.55 104.25M252.55 87.75L266.55 101.75M252.55 85.25L266.55 99.25M252.55 82.75L266.55 96.75M252.55 80.25L266.55 94.25M252.55 77.75L266.55 91.75M252.55 75.25L266.55 89.25M252.55 72.75L266.55 86.75M252.55 70.25L266.55 84.25M252.55 67.75L266.55 81.75M252.55 65.25L266.55 79.25M252.55 62.75L266.55 76.75M252.55 60.25L266.55 74.25" stroke="#000" stroke-width="0.95" fill="none"/>
<rect x="252.55" y="87.95" width="14.0" height="7.30" fill="none" stroke="#000" stroke-width="1.7"/>
</svg></body></html>
